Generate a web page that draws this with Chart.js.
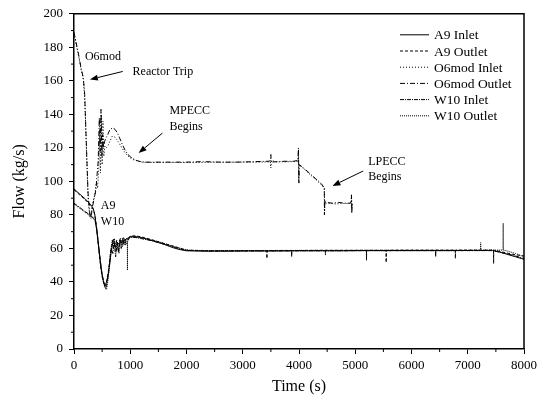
<!DOCTYPE html>
<html><head><meta charset="utf-8">
<script src="https://cdn.jsdelivr.net/npm/chart.js@4/dist/chart.umd.min.js"></script>
<style>html,body{margin:0;padding:0;background:#fff}#wrap{width:541px;height:402px;position:relative}</style>
</head><body><div id="wrap"><canvas id="c"></canvas></div>
<script>
// ---- data (time in s, flow in kg/s) ----
const seriesLabels = ['A9 Inlet','A9 Outlet','O6mod Inlet','O6mod Outlet','W10 Inlet','W10 Outlet'];

const a9InT = [0,100,200,300,340,370,400,430,460,490,520,545,570,600,630,660,690,720,760,800,850,900,950,1000,1100,1200,1300,1400,1500,1600,1700,1800,1900,2000,2300,2700,3100,3500,3900,4300,4700,5100,5500,5900,6300,6700,7100,7440,7550,7650,7750,7850,7950,8000];
const a9InFlow = [95.5,92.5,89.5,86,84,80,72,63,54,46,41,38.5,39,43,50,58,63.5,63,62.5,63,64,65,66,67,67,66.5,65.5,64.5,63.5,62.5,61.2,60,59.2,58.6,58.4,58.4,58.5,58.5,58.6,58.6,58.6,58.7,58.7,58.7,58.7,58.7,58.8,58.8,58,57,56,55,54,53.5];

const a9OutT = [0,100,200,300,350,380,410,440,470,500,530,555,580,610,640,670,700,730,760,790,820,850,880,910,940,970,1000,1100,1250,1400,1550,1700,1850,2000,2400,2800,3200,3428,3430,3432,3600,4000,4400,4800,5200,5548,5550,5552,5800,6200,6600,6778,6780,6782,7000,7300,7440,7458,7460,7462,7600,7800,8000];
const a9OutFlow = [95,92,89,85.5,83,78,70,60,50,43,39,37.5,40,46,55,62,66,60,65,58,66,62,67,63,66,65,67.5,67.5,66.5,65,63.5,62,60.5,59,58.6,58.7,58.7,58.7,54,58.7,58.8,58.8,58.9,58.9,58.9,58.9,51.6,58.9,59,59,59,59,54,59,59,59,59,59,51,59,58,56.5,55.5];

const o6InT = [0,30,80,130,165,190,220,250,280,310,340,370,400,420,440,455,470,485,500,515,530,550,570,600,640,680,720,760,800,850,900,950,1000,1050,1100,1150,1200,1300,1500,1800,2100,2400,2700,3000,3200,3400,3490,3500,3510,3600,3800,3950,3985,3990,3995,4000,4100,4200,4300,4400,4450,4455,4460,4465,4550,4650,4750,4850,4930,4935,4940,4950];
const o6InFlow = [188,183,175,166,161,150,120,90,79,82,88,92,100,96,108,128,105,140,110,136,115,121,120,121,124,127,126.5,125,123,120,117.5,115.5,114,113,112.5,112,111.5,111.3,111.3,111.3,111.2,111.4,111.4,111.5,111.4,111.6,111.7,108,112.5,111.6,111.7,111.9,112,118,100,110,107,104,101,98,96,82,89,87,87,86.5,87,86.8,87,91,83,87];

const o6OutT = [0,30,80,130,165,190,220,250,280,300,330,360,390,410,430,450,465,480,495,510,525,545,570,600,640,690,730,770,810,860,910,960,1010,1060,1110,1160,1250,1400,1700,2000,2300,2600,2900,3200,3450,3495,3500,3505,3700,3900,3980,3990,3998,4005,4100,4200,4300,4400,4450,4452,4458,4470,4600,4700,4800,4900,4925,4932,4938,4945];
const o6OutFlow = [189,184,176,167,162,152,122,93,81,78,85,90,95,104,112,138,118,143,115,128,120,124,126,128,131,132,131,129,126,122,118.5,116,114.5,113.5,112.5,112,111.5,111.5,111.5,111.5,111.8,111.5,111.5,111.8,112,112.3,116,111.5,112,112,112.5,120,99,110,107.5,104.5,101.5,98.5,96,80,88,87.5,87,87.5,87,87,87.5,92,81,87];

const w10InT = [0,100,200,300,370,400,430,460,490,520,550,565,580,610,640,665,690,715,740,765,790,815,840,865,890,915,940,970,1000,1100,1250,1400,1550,1700,1850,2000,2400,2800,3200,3600,3868,3870,3872,4000,4400,4800,5198,5200,5202,5600,6000,6428,6430,6432,6800,7200,7440,7600,7800,8000];
const w10InFlow = [87,84.5,82,79.5,77.5,73,64,55,47,41,37,36,38,44,52,60,57,64,55,63,58,65,60,66,62,65,64,66,66.5,66.5,65.5,64.5,63,61.5,60,58.8,58.4,58.4,58.5,58.5,58.5,55,58.5,58.6,58.6,58.6,58.7,53,58.7,58.7,58.7,58.7,55,58.7,58.7,58.7,58.7,57.5,56,54];

const w10OutT = [0,100,200,300,370,410,440,470,500,530,560,580,600,625,650,680,700,720,745,770,800,830,860,890,920,948,950,952,980,1000,1100,1250,1400,1550,1700,1850,2000,2400,2800,3200,3600,4000,4468,4470,4472,4800,5200,5600,6000,6400,6800,7200,7228,7230,7232,7400,7628,7630,7632,7700,7850,8000];
const w10OutFlow = [86.5,84,81.5,79,77,70,61,52,44,39,36,35.5,40,48,58,65,60,66,58,64,57,66,61,65,62,64,47,64,66,67,67,66,65,63.5,62,60.5,59,58.6,58.7,58.7,58.7,58.8,58.8,56,58.8,58.8,58.9,58.9,58.9,58.9,58.9,59,59,63.5,59,59,59,75,59,58.5,57,55];

const xTickValues = [0,1000,2000,3000,4000,5000,6000,7000,8000];
const yTickValues = [0,20,40,60,80,100,120,140,160,180,200];

// annotations (text anchored in data coordinates)
const notes = [
  {text:'O6mod', t:194, flow:174.5},
  {text:'Reactor Trip', t:1042, flow:165.6},
  {text:'MPECC', t:1696, flow:141.8},
  {text:'Begins', t:1696, flow:132.3},
  {text:'LPECC', t:5230, flow:111.6},
  {text:'Begins', t:5230, flow:102.7},
  {text:'A9', t:477, flow:85.5},
  {text:'W10', t:477, flow:76}
];
const arrows = [
  {from:[866,165.6], to:[283,160.8]},
  {from:[1572,128.8], to:[1148,116.9]},
  {from:[5141,106.2], to:[4594,97.3]}
];

// ---- build ----
function zip(ts, fs, name){
  if (ts.length !== fs.length) throw new Error('length mismatch '+name+' '+ts.length+' vs '+fs.length);
  return ts.map((t,i)=>({x:t, y:fs[i]}));
}
const FONT = "'Liberation Serif','Times New Roman',serif";
const dashes = [[], [3,2], [1,2], [5,2,1,2], [4,1,1,1], [1,1]];
const raw = [[a9InT,a9InFlow],[a9OutT,a9OutFlow],[o6InT,o6InFlow],[o6OutT,o6OutFlow],[w10InT,w10InFlow],[w10OutT,w10OutFlow]];
const datasets = raw.map((r,i)=>({
  label: seriesLabels[i],
  data: zip(r[0], r[1], seriesLabels[i]),
  borderColor:'#000', borderWidth:1, borderDash:dashes[i],
  pointRadius:0, tension:0, fill:false
}));

const decor = {
  id:'decor',
  afterDraw(chart){
    const {ctx, chartArea:a, scales:{x,y}} = chart;
    ctx.save();
    ctx.strokeStyle='#000'; ctx.lineWidth=1.5;
    ctx.beginPath();
    ctx.moveTo(a.left, a.top); ctx.lineTo(a.right, a.top); ctx.lineTo(a.right, a.bottom);
    ctx.stroke();
    ctx.lineWidth=1;
    ctx.beginPath();
    for (let i=0;i<xTickValues.length-1;i++){
      const px = x.getPixelForValue((xTickValues[i]+xTickValues[i+1])/2);
      ctx.moveTo(px, a.bottom); ctx.lineTo(px, a.bottom+3);
    }
    for (let i=0;i<yTickValues.length-1;i++){
      const py = y.getPixelForValue((yTickValues[i]+yTickValues[i+1])/2);
      ctx.moveTo(a.left, py); ctx.lineTo(a.left-3, py);
    }
    ctx.stroke();
    ctx.fillStyle='#000';
    ctx.font = '12px '+FONT;
    ctx.textAlign='left'; ctx.textBaseline='middle';
    notes.forEach(n=>ctx.fillText(n.text, x.getPixelForValue(n.t), y.getPixelForValue(n.flow)));
    arrows.forEach(ar=>{
      const x1=x.getPixelForValue(ar.from[0]), y1=y.getPixelForValue(ar.from[1]);
      const x2=x.getPixelForValue(ar.to[0]), y2=y.getPixelForValue(ar.to[1]);
      const ang=Math.atan2(y2-y1, x2-x1);
      const L=8, W=3;
      const bx=x2-L*Math.cos(ang), by=y2-L*Math.sin(ang);
      ctx.lineWidth=1;
      ctx.beginPath(); ctx.moveTo(x1,y1); ctx.lineTo(bx,by); ctx.stroke();
      ctx.beginPath();
      ctx.moveTo(x2,y2);
      ctx.lineTo(bx+W*Math.sin(ang), by-W*Math.cos(ang));
      ctx.lineTo(bx-W*Math.sin(ang), by+W*Math.cos(ang));
      ctx.closePath(); ctx.fill();
    });
    ctx.font = '13.5px '+FONT;
    chart.data.datasets.forEach((ds,i)=>{
      const yy = a.top + 21 + i*16.2;
      ctx.setLineDash(ds.borderDash); ctx.lineWidth=1;
      ctx.beginPath(); ctx.moveTo(a.right-124, yy); ctx.lineTo(a.right-95, yy); ctx.stroke();
      ctx.setLineDash([]);
      ctx.fillText(ds.label, a.right-90, yy+1);
    });
    ctx.restore();
  }
};

new Chart(document.getElementById('c'), {
  type:'line',
  data:{datasets},
  options:{
    responsive:true, maintainAspectRatio:false, animation:false,
    layout:{padding:{left:0,right:14,top:12,bottom:0}},
    plugins:{legend:{display:false}, tooltip:{enabled:false}},
    scales:{
      x:{type:'linear', min:0, max:8000,
        afterBuildTicks(s){ s.ticks = xTickValues.map(v=>({value:v})); },
        ticks:{color:'#000', font:{family:FONT,size:13}, padding:4, maxRotation:0, autoSkip:false, callback:v=>String(v)},
        grid:{drawOnChartArea:false, drawTicks:true, tickLength:5, color:'#000', tickWidth:1},
        border:{color:'#000', width:1.5},
        title:{display:true, text:'Time (s)', color:'#000', font:{family:FONT,size:16}, padding:{top:0,bottom:6}},
        afterFit(s){ s.height = 53; }
      },
      y:{type:'linear', min:0, max:200,
        afterBuildTicks(s){ s.ticks = yTickValues.map(v=>({value:v})); },
        ticks:{color:'#000', font:{family:FONT,size:13}, padding:6, autoSkip:false, callback:v=>String(v)},
        grid:{drawOnChartArea:false, drawTicks:true, tickLength:5, color:'#000', tickWidth:1},
        border:{color:'#000', width:1.5},
        title:{display:true, text:'Flow (kg/s)', color:'#000', font:{family:FONT,size:16}, padding:{top:10,bottom:0}},
        afterFit(s){ s.width = 74; }
      }
    }
  },
  plugins:[decor]
});
</script>
</body></html>
